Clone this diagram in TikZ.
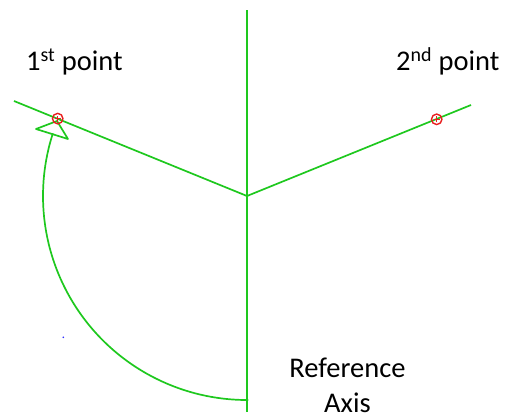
\documentclass[tikz,border=0pt]{standalone}
\usepackage{fontspec}
\setmainfont{Carlito}
\definecolor{lgreen}{RGB}{30,200,30}
\definecolor{pred}{RGB}{232,30,30}
\begin{document}
\begin{tikzpicture}[x=1pt,y=-1pt,
  gl/.style={draw=lgreen,line width=1.7pt},
  ptmark/.style={circle,draw=pred,line width=1.4pt,minimum size=10.5pt,inner sep=0pt,
    path picture={\draw[pred,line width=1pt] ([xshift=-3pt]path picture bounding box.center) -- ([xshift=3pt]path picture bounding box.center)
      ([yshift=-3pt]path picture bounding box.center) -- ([yshift=3pt]path picture bounding box.center);}},
  lbl/.style={inner sep=0pt,font=\fontsize{28.5}{34}\selectfont}]
\useasboundingbox (0,0) rectangle (515,418);
\coordinate (top) at (247,10);
\coordinate (bot) at (247,412);
\coordinate (c) at (247,196);
\coordinate (le) at (14,101);
\coordinate (re) at (471,105);
\coordinate (arcstart) at (247,400);
\coordinate (tipA) at (57,121);
\coordinate (tipB) at (36,129);
\coordinate (tipC) at (68,139);
\draw[gl] (top) -- (bot);
\draw[gl] (le) -- (c) -- (re);
\draw[gl] (arcstart) arc[start angle=270, end angle=162.1, radius=204pt];
\draw[gl,line join=round] (tipA) -- (tipB) -- (tipC) -- cycle;
\fill[lgreen] (c) circle[radius=1.4pt];
\fill[lgreen] (arcstart) circle[radius=1.6pt];
\node[ptmark] (p1) at (57.7,118.6) {};
\node[ptmark] (p2) at (436.7,119.3) {};
\fill[blue!80] (63.3,337.3) circle[radius=0.9pt];
\node[lbl,anchor=base west] (t1) at (26,70.7) {1\textsuperscript{st} point};
\node[lbl,anchor=base west] (t2) at (396,70.7) {2\textsuperscript{nd} point};
\node[lbl,anchor=base] (r1) at (347.5,377) {Reference};
\node[lbl,anchor=base] (r2) at (347.5,412) {Axis};
\end{tikzpicture}
\end{document}
